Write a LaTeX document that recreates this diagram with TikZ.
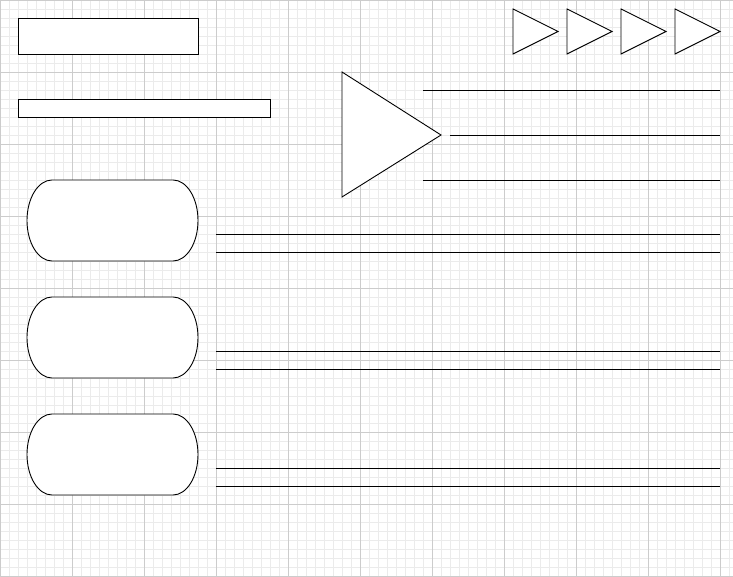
\documentclass[tikz,border=0pt]{standalone}
\begin{document}
\begin{tikzpicture}[x=1pt,y=1pt,
  shapeline/.style={draw=black,line width=0.9pt,fill=white},
  rule/.style={draw=black,line width=0.9pt}]
\useasboundingbox (0,0) rectangle (733,576);
\fill[white] (0,0) rectangle (733,576);
\draw[line width=0.6pt,draw=black!8,step=9pt] (0,0) grid (733,576);
\draw[line width=0.8pt,draw=black!20,step=72pt] (0,0) grid (733,576);
% rectangles
\draw[shapeline] (18,522) rectangle (198,558);
\draw[shapeline] (18,459) rectangle (270,477);
% big triangle
\draw[shapeline,line join=miter] (342,504) -- (441,441) -- (342,379) -- cycle;
\draw[rule] (423,486) -- (720,486);
\draw[rule] (450,441) -- (720,441);
\draw[rule] (423,396) -- (720,396);
% small triangles
\foreach \x in {513,567,621,675}
  \draw[shapeline] (\x,567) -- (\x+45,544.5) -- (\x,522) -- cycle;
% stadium shapes and rules
\foreach \t/\la/\lb in {396/342/324, 279/225/207, 162/108/90}{
  \draw[shapeline] (52,\t) -- (173,\t)
    arc[start angle=90,end angle=-90,x radius=25pt,y radius=40.5pt]
    -- (52,\t-81)
    arc[start angle=270,end angle=90,x radius=25pt,y radius=40.5pt] -- cycle;
  \draw[rule] (216,\la) -- (720,\la);
  \draw[rule] (216,\lb) -- (720,\lb);
}
\end{tikzpicture}
\end{document}
